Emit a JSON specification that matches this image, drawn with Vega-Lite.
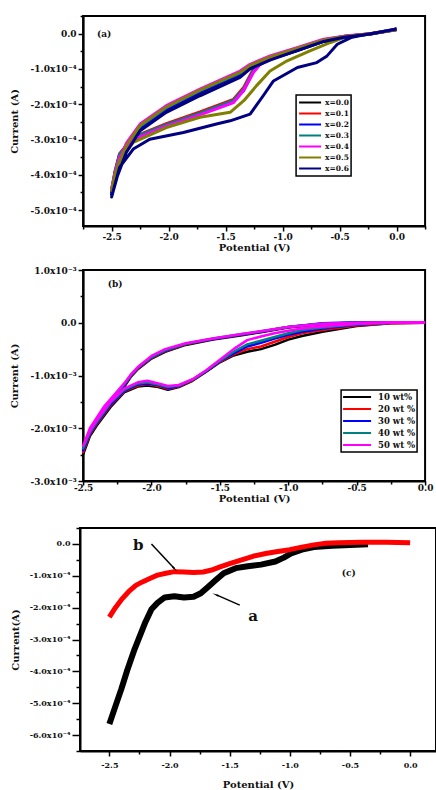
{
  "$schema": "https://vega.github.io/schema/vega-lite/v6.json",
  "description": "Cyclic voltammograms. Current is stored in units of 1e-4 A (panels a and c) and 1e-3 A (panel b).",
  "background": "white",
  "padding": {"left": 8, "top": 11, "right": 0, "bottom": 0},
  "config": {
    "view": {"stroke": "black", "strokeWidth": 2},
    "axis": {
      "grid": false, "domainColor": "black", "domainWidth": 2,
      "tickColor": "black", "tickWidth": 1.5, "tickCount": 100,
      "labelFont": "DejaVu Serif", "labelFontWeight": "bold", "labelFontSize": 8, "labelColor": "#111",
      "titleFont": "DejaVu Serif", "titleFontWeight": "bold", "titleFontSize": 10, "titleColor": "#111",
      "labelFlush": false, "labelOverlap": false
    },
    "legend": {"strokeWidth": 1.5},
    "text": {"font": "DejaVu Serif", "fontWeight": "bold", "color": "#111"}
  },
  "datasets": {
    "cv_a": [
      {"sample":"x=0.0","step":1,"potential":0,"current":0.11},
      {"sample":"x=0.0","step":2,"potential":-0.23,"current":-0.01},
      {"sample":"x=0.0","step":3,"potential":-0.46,"current":-0.1},
      {"sample":"x=0.0","step":4,"potential":-0.64,"current":-0.22},
      {"sample":"x=0.0","step":5,"potential":-0.87,"current":-0.48},
      {"sample":"x=0.0","step":6,"potential":-1.11,"current":-0.73},
      {"sample":"x=0.0","step":7,"potential":-1.2,"current":-0.8},
      {"sample":"x=0.0","step":8,"potential":-1.256,"current":-1.05},
      {"sample":"x=0.0","step":9,"potential":-1.34,"current":-1.58},
      {"sample":"x=0.0","step":10,"potential":-1.43,"current":-1.9},
      {"sample":"x=0.0","step":11,"potential":-1.725,"current":-2.25},
      {"sample":"x=0.0","step":12,"potential":-2.02,"current":-2.58},
      {"sample":"x=0.0","step":13,"potential":-2.31,"current":-2.96},
      {"sample":"x=0.0","step":14,"potential":-2.43,"current":-3.45},
      {"sample":"x=0.0","step":15,"potential":-2.47,"current":-3.95},
      {"sample":"x=0.0","step":16,"potential":-2.5,"current":-4.55},
      {"sample":"x=0.0","step":17,"potential":-2.45,"current":-3.9},
      {"sample":"x=0.0","step":18,"potential":-2.37,"current":-3.3},
      {"sample":"x=0.0","step":19,"potential":-2.25,"current":-2.7},
      {"sample":"x=0.0","step":20,"potential":-2.02,"current":-2.16},
      {"sample":"x=0.0","step":21,"potential":-1.725,"current":-1.68},
      {"sample":"x=0.0","step":22,"potential":-1.373,"current":-1.16},
      {"sample":"x=0.0","step":23,"potential":-1.285,"current":-0.95},
      {"sample":"x=0.0","step":24,"potential":-1.11,"current":-0.7},
      {"sample":"x=0.0","step":25,"potential":-0.874,"current":-0.46},
      {"sample":"x=0.0","step":26,"potential":-0.64,"current":-0.2},
      {"sample":"x=0.0","step":27,"potential":-0.46,"current":-0.09},
      {"sample":"x=0.0","step":28,"potential":-0.23,"current":-0.01},
      {"sample":"x=0.0","step":29,"potential":0,"current":0.11},

      {"sample":"x=0.1","step":1,"potential":0,"current":0.12},
      {"sample":"x=0.1","step":2,"potential":-0.23,"current":0.0},
      {"sample":"x=0.1","step":3,"potential":-0.46,"current":-0.09},
      {"sample":"x=0.1","step":4,"potential":-0.64,"current":-0.21},
      {"sample":"x=0.1","step":5,"potential":-0.87,"current":-0.46},
      {"sample":"x=0.1","step":6,"potential":-1.11,"current":-0.7},
      {"sample":"x=0.1","step":7,"potential":-1.2,"current":-0.77},
      {"sample":"x=0.1","step":8,"potential":-1.256,"current":-1.0},
      {"sample":"x=0.1","step":9,"potential":-1.34,"current":-1.52},
      {"sample":"x=0.1","step":10,"potential":-1.43,"current":-1.86},
      {"sample":"x=0.1","step":11,"potential":-1.725,"current":-2.22},
      {"sample":"x=0.1","step":12,"potential":-2.02,"current":-2.55},
      {"sample":"x=0.1","step":13,"potential":-2.31,"current":-2.93},
      {"sample":"x=0.1","step":14,"potential":-2.43,"current":-3.4},
      {"sample":"x=0.1","step":15,"potential":-2.47,"current":-3.9},
      {"sample":"x=0.1","step":16,"potential":-2.5,"current":-4.45},
      {"sample":"x=0.1","step":17,"potential":-2.45,"current":-3.82},
      {"sample":"x=0.1","step":18,"potential":-2.37,"current":-3.2},
      {"sample":"x=0.1","step":19,"potential":-2.25,"current":-2.63},
      {"sample":"x=0.1","step":20,"potential":-2.02,"current":-2.1},
      {"sample":"x=0.1","step":21,"potential":-1.725,"current":-1.62},
      {"sample":"x=0.1","step":22,"potential":-1.373,"current":-1.12},
      {"sample":"x=0.1","step":23,"potential":-1.285,"current":-0.91},
      {"sample":"x=0.1","step":24,"potential":-1.11,"current":-0.67},
      {"sample":"x=0.1","step":25,"potential":-0.874,"current":-0.43},
      {"sample":"x=0.1","step":26,"potential":-0.64,"current":-0.18},
      {"sample":"x=0.1","step":27,"potential":-0.46,"current":-0.08},
      {"sample":"x=0.1","step":28,"potential":-0.23,"current":0.0},
      {"sample":"x=0.1","step":29,"potential":0,"current":0.12},

      {"sample":"x=0.2","step":1,"potential":0,"current":0.13},
      {"sample":"x=0.2","step":2,"potential":-0.23,"current":-0.01},
      {"sample":"x=0.2","step":3,"potential":-0.46,"current":-0.1},
      {"sample":"x=0.2","step":4,"potential":-0.64,"current":-0.22},
      {"sample":"x=0.2","step":5,"potential":-0.87,"current":-0.47},
      {"sample":"x=0.2","step":6,"potential":-1.11,"current":-0.72},
      {"sample":"x=0.2","step":7,"potential":-1.2,"current":-0.8},
      {"sample":"x=0.2","step":8,"potential":-1.256,"current":-1.06},
      {"sample":"x=0.2","step":9,"potential":-1.34,"current":-1.6},
      {"sample":"x=0.2","step":10,"potential":-1.43,"current":-1.92},
      {"sample":"x=0.2","step":11,"potential":-1.725,"current":-2.27},
      {"sample":"x=0.2","step":12,"potential":-2.02,"current":-2.6},
      {"sample":"x=0.2","step":13,"potential":-2.31,"current":-2.98},
      {"sample":"x=0.2","step":14,"potential":-2.43,"current":-3.45},
      {"sample":"x=0.2","step":15,"potential":-2.47,"current":-3.95},
      {"sample":"x=0.2","step":16,"potential":-2.5,"current":-4.5},
      {"sample":"x=0.2","step":17,"potential":-2.45,"current":-3.86},
      {"sample":"x=0.2","step":18,"potential":-2.37,"current":-3.24},
      {"sample":"x=0.2","step":19,"potential":-2.25,"current":-2.67},
      {"sample":"x=0.2","step":20,"potential":-2.02,"current":-2.13},
      {"sample":"x=0.2","step":21,"potential":-1.725,"current":-1.65},
      {"sample":"x=0.2","step":22,"potential":-1.373,"current":-1.14},
      {"sample":"x=0.2","step":23,"potential":-1.285,"current":-0.93},
      {"sample":"x=0.2","step":24,"potential":-1.11,"current":-0.68},
      {"sample":"x=0.2","step":25,"potential":-0.874,"current":-0.44},
      {"sample":"x=0.2","step":26,"potential":-0.64,"current":-0.19},
      {"sample":"x=0.2","step":27,"potential":-0.46,"current":-0.08},
      {"sample":"x=0.2","step":28,"potential":-0.23,"current":-0.01},
      {"sample":"x=0.2","step":29,"potential":0,"current":0.13},

      {"sample":"x=0.3","step":1,"potential":0,"current":0.12},
      {"sample":"x=0.3","step":2,"potential":-0.23,"current":0.0},
      {"sample":"x=0.3","step":3,"potential":-0.46,"current":-0.09},
      {"sample":"x=0.3","step":4,"potential":-0.64,"current":-0.21},
      {"sample":"x=0.3","step":5,"potential":-0.87,"current":-0.46},
      {"sample":"x=0.3","step":6,"potential":-1.11,"current":-0.71},
      {"sample":"x=0.3","step":7,"potential":-1.2,"current":-0.79},
      {"sample":"x=0.3","step":8,"potential":-1.256,"current":-1.04},
      {"sample":"x=0.3","step":9,"potential":-1.34,"current":-1.56},
      {"sample":"x=0.3","step":10,"potential":-1.43,"current":-1.89},
      {"sample":"x=0.3","step":11,"potential":-1.725,"current":-2.25},
      {"sample":"x=0.3","step":12,"potential":-2.02,"current":-2.58},
      {"sample":"x=0.3","step":13,"potential":-2.31,"current":-2.95},
      {"sample":"x=0.3","step":14,"potential":-2.43,"current":-3.42},
      {"sample":"x=0.3","step":15,"potential":-2.47,"current":-3.92},
      {"sample":"x=0.3","step":16,"potential":-2.5,"current":-4.42},
      {"sample":"x=0.3","step":17,"potential":-2.45,"current":-3.8},
      {"sample":"x=0.3","step":18,"potential":-2.37,"current":-3.18},
      {"sample":"x=0.3","step":19,"potential":-2.25,"current":-2.62},
      {"sample":"x=0.3","step":20,"potential":-2.02,"current":-2.09},
      {"sample":"x=0.3","step":21,"potential":-1.725,"current":-1.61},
      {"sample":"x=0.3","step":22,"potential":-1.373,"current":-1.11},
      {"sample":"x=0.3","step":23,"potential":-1.285,"current":-0.9},
      {"sample":"x=0.3","step":24,"potential":-1.11,"current":-0.66},
      {"sample":"x=0.3","step":25,"potential":-0.874,"current":-0.42},
      {"sample":"x=0.3","step":26,"potential":-0.64,"current":-0.18},
      {"sample":"x=0.3","step":27,"potential":-0.46,"current":-0.08},
      {"sample":"x=0.3","step":28,"potential":-0.23,"current":0.0},
      {"sample":"x=0.3","step":29,"potential":0,"current":0.12},

      {"sample":"x=0.4","step":1,"potential":0,"current":0.12},
      {"sample":"x=0.4","step":2,"potential":-0.23,"current":0.0},
      {"sample":"x=0.4","step":3,"potential":-0.46,"current":-0.08},
      {"sample":"x=0.4","step":4,"potential":-0.64,"current":-0.18},
      {"sample":"x=0.4","step":5,"potential":-0.87,"current":-0.45},
      {"sample":"x=0.4","step":6,"potential":-1.11,"current":-0.72},
      {"sample":"x=0.4","step":7,"potential":-1.2,"current":-0.88},
      {"sample":"x=0.4","step":8,"potential":-1.256,"current":-1.1},
      {"sample":"x=0.4","step":9,"potential":-1.34,"current":-1.6},
      {"sample":"x=0.4","step":10,"potential":-1.43,"current":-1.95},
      {"sample":"x=0.4","step":11,"potential":-1.725,"current":-2.3},
      {"sample":"x=0.4","step":12,"potential":-2.02,"current":-2.62},
      {"sample":"x=0.4","step":13,"potential":-2.31,"current":-3.0},
      {"sample":"x=0.4","step":14,"potential":-2.43,"current":-3.5},
      {"sample":"x=0.4","step":15,"potential":-2.47,"current":-3.95},
      {"sample":"x=0.4","step":16,"potential":-2.5,"current":-4.4},
      {"sample":"x=0.4","step":17,"potential":-2.45,"current":-3.75},
      {"sample":"x=0.4","step":18,"potential":-2.37,"current":-3.1},
      {"sample":"x=0.4","step":19,"potential":-2.25,"current":-2.56},
      {"sample":"x=0.4","step":20,"potential":-2.02,"current":-2.04},
      {"sample":"x=0.4","step":21,"potential":-1.725,"current":-1.57},
      {"sample":"x=0.4","step":22,"potential":-1.373,"current":-1.06},
      {"sample":"x=0.4","step":23,"potential":-1.285,"current":-0.87},
      {"sample":"x=0.4","step":24,"potential":-1.11,"current":-0.63},
      {"sample":"x=0.4","step":25,"potential":-0.874,"current":-0.4},
      {"sample":"x=0.4","step":26,"potential":-0.64,"current":-0.16},
      {"sample":"x=0.4","step":27,"potential":-0.46,"current":-0.07},
      {"sample":"x=0.4","step":28,"potential":-0.23,"current":0.0},
      {"sample":"x=0.4","step":29,"potential":0,"current":0.12},

      {"sample":"x=0.5","step":1,"potential":0,"current":0.12},
      {"sample":"x=0.5","step":2,"potential":-0.23,"current":0.0},
      {"sample":"x=0.5","step":3,"potential":-0.46,"current":-0.11},
      {"sample":"x=0.5","step":4,"potential":-0.58,"current":-0.25},
      {"sample":"x=0.5","step":5,"potential":-0.76,"current":-0.49},
      {"sample":"x=0.5","step":6,"potential":-0.96,"current":-0.77},
      {"sample":"x=0.5","step":7,"potential":-1.11,"current":-1.06},
      {"sample":"x=0.5","step":8,"potential":-1.23,"current":-1.48},
      {"sample":"x=0.5","step":9,"potential":-1.34,"current":-1.9},
      {"sample":"x=0.5","step":10,"potential":-1.46,"current":-2.23},
      {"sample":"x=0.5","step":11,"potential":-1.725,"current":-2.37},
      {"sample":"x=0.5","step":12,"potential":-2.02,"current":-2.66},
      {"sample":"x=0.5","step":13,"potential":-2.31,"current":-3.08},
      {"sample":"x=0.5","step":14,"potential":-2.43,"current":-3.6},
      {"sample":"x=0.5","step":15,"potential":-2.47,"current":-4.0},
      {"sample":"x=0.5","step":16,"potential":-2.5,"current":-4.45},
      {"sample":"x=0.5","step":17,"potential":-2.45,"current":-3.8},
      {"sample":"x=0.5","step":18,"potential":-2.37,"current":-3.17},
      {"sample":"x=0.5","step":19,"potential":-2.25,"current":-2.6},
      {"sample":"x=0.5","step":20,"potential":-2.02,"current":-2.08},
      {"sample":"x=0.5","step":21,"potential":-1.725,"current":-1.6},
      {"sample":"x=0.5","step":22,"potential":-1.373,"current":-1.1},
      {"sample":"x=0.5","step":23,"potential":-1.285,"current":-0.9},
      {"sample":"x=0.5","step":24,"potential":-1.11,"current":-0.66},
      {"sample":"x=0.5","step":25,"potential":-0.874,"current":-0.42},
      {"sample":"x=0.5","step":26,"potential":-0.64,"current":-0.18},
      {"sample":"x=0.5","step":27,"potential":-0.46,"current":-0.08},
      {"sample":"x=0.5","step":28,"potential":-0.23,"current":0.0},
      {"sample":"x=0.5","step":29,"potential":0,"current":0.12},

      {"sample":"x=0.6","step":1,"potential":0,"current":0.13},
      {"sample":"x=0.6","step":2,"potential":-0.23,"current":0.0},
      {"sample":"x=0.6","step":3,"potential":-0.4,"current":-0.11},
      {"sample":"x=0.6","step":4,"potential":-0.52,"current":-0.3},
      {"sample":"x=0.6","step":5,"potential":-0.61,"current":-0.63},
      {"sample":"x=0.6","step":6,"potential":-0.7,"current":-0.82},
      {"sample":"x=0.6","step":7,"potential":-0.87,"current":-0.96},
      {"sample":"x=0.6","step":8,"potential":-1.08,"current":-1.34},
      {"sample":"x=0.6","step":9,"potential":-1.17,"current":-1.76},
      {"sample":"x=0.6","step":10,"potential":-1.285,"current":-2.28},
      {"sample":"x=0.6","step":11,"potential":-1.46,"current":-2.47},
      {"sample":"x=0.6","step":12,"potential":-1.58,"current":-2.56},
      {"sample":"x=0.6","step":13,"potential":-1.87,"current":-2.8},
      {"sample":"x=0.6","step":14,"potential":-2.165,"current":-2.99},
      {"sample":"x=0.6","step":15,"potential":-2.31,"current":-3.27},
      {"sample":"x=0.6","step":16,"potential":-2.43,"current":-3.79},
      {"sample":"x=0.6","step":17,"potential":-2.5,"current":-4.63},
      {"sample":"x=0.6","step":18,"potential":-2.45,"current":-4.05},
      {"sample":"x=0.6","step":19,"potential":-2.37,"current":-3.36},
      {"sample":"x=0.6","step":20,"potential":-2.25,"current":-2.75},
      {"sample":"x=0.6","step":21,"potential":-2.02,"current":-2.23},
      {"sample":"x=0.6","step":22,"potential":-1.725,"current":-1.76},
      {"sample":"x=0.6","step":23,"potential":-1.373,"current":-1.24},
      {"sample":"x=0.6","step":24,"potential":-1.285,"current":-1.0},
      {"sample":"x=0.6","step":25,"potential":-1.11,"current":-0.75},
      {"sample":"x=0.6","step":26,"potential":-0.874,"current":-0.48},
      {"sample":"x=0.6","step":27,"potential":-0.64,"current":-0.22},
      {"sample":"x=0.6","step":28,"potential":-0.46,"current":-0.1},
      {"sample":"x=0.6","step":29,"potential":-0.23,"current":-0.01},
      {"sample":"x=0.6","step":30,"potential":0,"current":0.13}
    ],
    "cv_b": [
      {"sample":"10 wt%","step":1,"potential":0,"current":0},
      {"sample":"10 wt%","step":2,"potential":-0.25,"current":-0.01},
      {"sample":"10 wt%","step":3,"potential":-0.5,"current":-0.06},
      {"sample":"10 wt%","step":4,"potential":-0.75,"current":-0.17},
      {"sample":"10 wt%","step":5,"potential":-0.9,"current":-0.25},
      {"sample":"10 wt%","step":6,"potential":-1.0,"current":-0.32},
      {"sample":"10 wt%","step":7,"potential":-1.1,"current":-0.42},
      {"sample":"10 wt%","step":8,"potential":-1.2,"current":-0.5},
      {"sample":"10 wt%","step":9,"potential":-1.3,"current":-0.55},
      {"sample":"10 wt%","step":10,"potential":-1.4,"current":-0.62},
      {"sample":"10 wt%","step":11,"potential":-1.5,"current":-0.75},
      {"sample":"10 wt%","step":12,"potential":-1.6,"current":-0.93},
      {"sample":"10 wt%","step":13,"potential":-1.7,"current":-1.1},
      {"sample":"10 wt%","step":14,"potential":-1.8,"current":-1.22},
      {"sample":"10 wt%","step":15,"potential":-1.88,"current":-1.27},
      {"sample":"10 wt%","step":16,"potential":-1.95,"current":-1.22},
      {"sample":"10 wt%","step":17,"potential":-2.03,"current":-1.19},
      {"sample":"10 wt%","step":18,"potential":-2.1,"current":-1.21},
      {"sample":"10 wt%","step":19,"potential":-2.2,"current":-1.32},
      {"sample":"10 wt%","step":20,"potential":-2.3,"current":-1.6},
      {"sample":"10 wt%","step":21,"potential":-2.4,"current":-1.95},
      {"sample":"10 wt%","step":22,"potential":-2.45,"current":-2.15},
      {"sample":"10 wt%","step":23,"potential":-2.5,"current":-2.5},
      {"sample":"10 wt%","step":24,"potential":-2.45,"current":-2.12},
      {"sample":"10 wt%","step":25,"potential":-2.35,"current":-1.72},
      {"sample":"10 wt%","step":26,"potential":-2.25,"current":-1.4},
      {"sample":"10 wt%","step":27,"potential":-2.2,"current":-1.22},
      {"sample":"10 wt%","step":28,"potential":-2.15,"current":-1.02},
      {"sample":"10 wt%","step":29,"potential":-2.1,"current":-0.88},
      {"sample":"10 wt%","step":30,"potential":-2.0,"current":-0.68},
      {"sample":"10 wt%","step":31,"potential":-1.9,"current":-0.55},
      {"sample":"10 wt%","step":32,"potential":-1.75,"current":-0.42},
      {"sample":"10 wt%","step":33,"potential":-1.55,"current":-0.32},
      {"sample":"10 wt%","step":34,"potential":-1.35,"current":-0.24},
      {"sample":"10 wt%","step":35,"potential":-1.2,"current":-0.18},
      {"sample":"10 wt%","step":36,"potential":-1.0,"current":-0.09},
      {"sample":"10 wt%","step":37,"potential":-0.75,"current":-0.03},
      {"sample":"10 wt%","step":38,"potential":-0.5,"current":-0.01},
      {"sample":"10 wt%","step":39,"potential":-0.25,"current":0.0},
      {"sample":"10 wt%","step":40,"potential":0,"current":0.0},

      {"sample":"20 wt %","step":1,"potential":0,"current":0},
      {"sample":"20 wt %","step":2,"potential":-0.25,"current":-0.01},
      {"sample":"20 wt %","step":3,"potential":-0.5,"current":-0.05},
      {"sample":"20 wt %","step":4,"potential":-0.75,"current":-0.14},
      {"sample":"20 wt %","step":5,"potential":-0.9,"current":-0.2},
      {"sample":"20 wt %","step":6,"potential":-1.0,"current":-0.27},
      {"sample":"20 wt %","step":7,"potential":-1.1,"current":-0.36},
      {"sample":"20 wt %","step":8,"potential":-1.2,"current":-0.45},
      {"sample":"20 wt %","step":9,"potential":-1.3,"current":-0.5},
      {"sample":"20 wt %","step":10,"potential":-1.4,"current":-0.6},
      {"sample":"20 wt %","step":11,"potential":-1.5,"current":-0.74},
      {"sample":"20 wt %","step":12,"potential":-1.6,"current":-0.92},
      {"sample":"20 wt %","step":13,"potential":-1.7,"current":-1.09},
      {"sample":"20 wt %","step":14,"potential":-1.8,"current":-1.21},
      {"sample":"20 wt %","step":15,"potential":-1.88,"current":-1.25},
      {"sample":"20 wt %","step":16,"potential":-1.95,"current":-1.2},
      {"sample":"20 wt %","step":17,"potential":-2.03,"current":-1.16},
      {"sample":"20 wt %","step":18,"potential":-2.1,"current":-1.19},
      {"sample":"20 wt %","step":19,"potential":-2.2,"current":-1.3},
      {"sample":"20 wt %","step":20,"potential":-2.3,"current":-1.57},
      {"sample":"20 wt %","step":21,"potential":-2.4,"current":-1.92},
      {"sample":"20 wt %","step":22,"potential":-2.45,"current":-2.12},
      {"sample":"20 wt %","step":23,"potential":-2.5,"current":-2.45},
      {"sample":"20 wt %","step":24,"potential":-2.45,"current":-2.1},
      {"sample":"20 wt %","step":25,"potential":-2.35,"current":-1.7},
      {"sample":"20 wt %","step":26,"potential":-2.25,"current":-1.38},
      {"sample":"20 wt %","step":27,"potential":-2.2,"current":-1.2},
      {"sample":"20 wt %","step":28,"potential":-2.15,"current":-1.01},
      {"sample":"20 wt %","step":29,"potential":-2.1,"current":-0.87},
      {"sample":"20 wt %","step":30,"potential":-2.0,"current":-0.67},
      {"sample":"20 wt %","step":31,"potential":-1.9,"current":-0.54},
      {"sample":"20 wt %","step":32,"potential":-1.75,"current":-0.41},
      {"sample":"20 wt %","step":33,"potential":-1.55,"current":-0.31},
      {"sample":"20 wt %","step":34,"potential":-1.35,"current":-0.23},
      {"sample":"20 wt %","step":35,"potential":-1.2,"current":-0.17},
      {"sample":"20 wt %","step":36,"potential":-1.0,"current":-0.08},
      {"sample":"20 wt %","step":37,"potential":-0.75,"current":-0.02},
      {"sample":"20 wt %","step":38,"potential":-0.5,"current":0.0},
      {"sample":"20 wt %","step":39,"potential":-0.25,"current":0.0},
      {"sample":"20 wt %","step":40,"potential":0,"current":0.0},

      {"sample":"30 wt %","step":1,"potential":0,"current":0},
      {"sample":"30 wt %","step":2,"potential":-0.25,"current":0.0},
      {"sample":"30 wt %","step":3,"potential":-0.5,"current":-0.04},
      {"sample":"30 wt %","step":4,"potential":-0.75,"current":-0.11},
      {"sample":"30 wt %","step":5,"potential":-0.9,"current":-0.17},
      {"sample":"30 wt %","step":6,"potential":-1.0,"current":-0.23},
      {"sample":"30 wt %","step":7,"potential":-1.1,"current":-0.3},
      {"sample":"30 wt %","step":8,"potential":-1.2,"current":-0.38},
      {"sample":"30 wt %","step":9,"potential":-1.3,"current":-0.45},
      {"sample":"30 wt %","step":10,"potential":-1.4,"current":-0.58},
      {"sample":"30 wt %","step":11,"potential":-1.5,"current":-0.73},
      {"sample":"30 wt %","step":12,"potential":-1.6,"current":-0.92},
      {"sample":"30 wt %","step":13,"potential":-1.7,"current":-1.08},
      {"sample":"30 wt %","step":14,"potential":-1.8,"current":-1.2},
      {"sample":"30 wt %","step":15,"potential":-1.88,"current":-1.24},
      {"sample":"30 wt %","step":16,"potential":-1.95,"current":-1.18},
      {"sample":"30 wt %","step":17,"potential":-2.03,"current":-1.15},
      {"sample":"30 wt %","step":18,"potential":-2.1,"current":-1.17},
      {"sample":"30 wt %","step":19,"potential":-2.2,"current":-1.29},
      {"sample":"30 wt %","step":20,"potential":-2.3,"current":-1.55},
      {"sample":"30 wt %","step":21,"potential":-2.4,"current":-1.9},
      {"sample":"30 wt %","step":22,"potential":-2.45,"current":-2.1},
      {"sample":"30 wt %","step":23,"potential":-2.5,"current":-2.42},
      {"sample":"30 wt %","step":24,"potential":-2.45,"current":-2.07},
      {"sample":"30 wt %","step":25,"potential":-2.35,"current":-1.67},
      {"sample":"30 wt %","step":26,"potential":-2.25,"current":-1.36},
      {"sample":"30 wt %","step":27,"potential":-2.2,"current":-1.19},
      {"sample":"30 wt %","step":28,"potential":-2.15,"current":-1.0},
      {"sample":"30 wt %","step":29,"potential":-2.1,"current":-0.86},
      {"sample":"30 wt %","step":30,"potential":-2.0,"current":-0.66},
      {"sample":"30 wt %","step":31,"potential":-1.9,"current":-0.53},
      {"sample":"30 wt %","step":32,"potential":-1.75,"current":-0.4},
      {"sample":"30 wt %","step":33,"potential":-1.55,"current":-0.31},
      {"sample":"30 wt %","step":34,"potential":-1.35,"current":-0.23},
      {"sample":"30 wt %","step":35,"potential":-1.2,"current":-0.17},
      {"sample":"30 wt %","step":36,"potential":-1.0,"current":-0.08},
      {"sample":"30 wt %","step":37,"potential":-0.75,"current":-0.01},
      {"sample":"30 wt %","step":38,"potential":-0.5,"current":0.01},
      {"sample":"30 wt %","step":39,"potential":-0.25,"current":0.01},
      {"sample":"30 wt %","step":40,"potential":0,"current":0.01},

      {"sample":"40 wt %","step":1,"potential":0,"current":0},
      {"sample":"40 wt %","step":2,"potential":-0.25,"current":0.0},
      {"sample":"40 wt %","step":3,"potential":-0.5,"current":-0.03},
      {"sample":"40 wt %","step":4,"potential":-0.75,"current":-0.09},
      {"sample":"40 wt %","step":5,"potential":-0.9,"current":-0.14},
      {"sample":"40 wt %","step":6,"potential":-1.0,"current":-0.2},
      {"sample":"40 wt %","step":7,"potential":-1.1,"current":-0.27},
      {"sample":"40 wt %","step":8,"potential":-1.2,"current":-0.34},
      {"sample":"40 wt %","step":9,"potential":-1.3,"current":-0.41},
      {"sample":"40 wt %","step":10,"potential":-1.4,"current":-0.55},
      {"sample":"40 wt %","step":11,"potential":-1.5,"current":-0.72},
      {"sample":"40 wt %","step":12,"potential":-1.6,"current":-0.91},
      {"sample":"40 wt %","step":13,"potential":-1.7,"current":-1.08},
      {"sample":"40 wt %","step":14,"potential":-1.8,"current":-1.19},
      {"sample":"40 wt %","step":15,"potential":-1.88,"current":-1.22},
      {"sample":"40 wt %","step":16,"potential":-1.95,"current":-1.17},
      {"sample":"40 wt %","step":17,"potential":-2.03,"current":-1.13},
      {"sample":"40 wt %","step":18,"potential":-2.1,"current":-1.15},
      {"sample":"40 wt %","step":19,"potential":-2.2,"current":-1.27},
      {"sample":"40 wt %","step":20,"potential":-2.3,"current":-1.52},
      {"sample":"40 wt %","step":21,"potential":-2.4,"current":-1.88},
      {"sample":"40 wt %","step":22,"potential":-2.45,"current":-2.08},
      {"sample":"40 wt %","step":23,"potential":-2.5,"current":-2.38},
      {"sample":"40 wt %","step":24,"potential":-2.45,"current":-2.04},
      {"sample":"40 wt %","step":25,"potential":-2.35,"current":-1.64},
      {"sample":"40 wt %","step":26,"potential":-2.25,"current":-1.33},
      {"sample":"40 wt %","step":27,"potential":-2.2,"current":-1.17},
      {"sample":"40 wt %","step":28,"potential":-2.15,"current":-0.99},
      {"sample":"40 wt %","step":29,"potential":-2.1,"current":-0.85},
      {"sample":"40 wt %","step":30,"potential":-2.0,"current":-0.65},
      {"sample":"40 wt %","step":31,"potential":-1.9,"current":-0.52},
      {"sample":"40 wt %","step":32,"potential":-1.75,"current":-0.4},
      {"sample":"40 wt %","step":33,"potential":-1.55,"current":-0.3},
      {"sample":"40 wt %","step":34,"potential":-1.35,"current":-0.22},
      {"sample":"40 wt %","step":35,"potential":-1.2,"current":-0.16},
      {"sample":"40 wt %","step":36,"potential":-1.0,"current":-0.08},
      {"sample":"40 wt %","step":37,"potential":-0.75,"current":-0.02},
      {"sample":"40 wt %","step":38,"potential":-0.5,"current":0.0},
      {"sample":"40 wt %","step":39,"potential":-0.25,"current":0.0},
      {"sample":"40 wt %","step":40,"potential":0,"current":0.0},

      {"sample":"50 wt %","step":1,"potential":0,"current":0},
      {"sample":"50 wt %","step":2,"potential":-0.25,"current":0.0},
      {"sample":"50 wt %","step":3,"potential":-0.5,"current":-0.02},
      {"sample":"50 wt %","step":4,"potential":-0.75,"current":-0.07},
      {"sample":"50 wt %","step":5,"potential":-0.9,"current":-0.11},
      {"sample":"50 wt %","step":6,"potential":-1.0,"current":-0.15},
      {"sample":"50 wt %","step":7,"potential":-1.1,"current":-0.2},
      {"sample":"50 wt %","step":8,"potential":-1.2,"current":-0.26},
      {"sample":"50 wt %","step":9,"potential":-1.3,"current":-0.33},
      {"sample":"50 wt %","step":10,"potential":-1.4,"current":-0.5},
      {"sample":"50 wt %","step":11,"potential":-1.5,"current":-0.7},
      {"sample":"50 wt %","step":12,"potential":-1.6,"current":-0.9},
      {"sample":"50 wt %","step":13,"potential":-1.7,"current":-1.07},
      {"sample":"50 wt %","step":14,"potential":-1.8,"current":-1.18},
      {"sample":"50 wt %","step":15,"potential":-1.88,"current":-1.2},
      {"sample":"50 wt %","step":16,"potential":-1.95,"current":-1.15},
      {"sample":"50 wt %","step":17,"potential":-2.03,"current":-1.1},
      {"sample":"50 wt %","step":18,"potential":-2.1,"current":-1.13},
      {"sample":"50 wt %","step":19,"potential":-2.2,"current":-1.25},
      {"sample":"50 wt %","step":20,"potential":-2.3,"current":-1.5},
      {"sample":"50 wt %","step":21,"potential":-2.4,"current":-1.85},
      {"sample":"50 wt %","step":22,"potential":-2.45,"current":-2.05},
      {"sample":"50 wt %","step":23,"potential":-2.5,"current":-2.33},
      {"sample":"50 wt %","step":24,"potential":-2.45,"current":-2.0},
      {"sample":"50 wt %","step":25,"potential":-2.35,"current":-1.6},
      {"sample":"50 wt %","step":26,"potential":-2.25,"current":-1.3},
      {"sample":"50 wt %","step":27,"potential":-2.2,"current":-1.15},
      {"sample":"50 wt %","step":28,"potential":-2.15,"current":-0.98},
      {"sample":"50 wt %","step":29,"potential":-2.1,"current":-0.84},
      {"sample":"50 wt %","step":30,"potential":-2.0,"current":-0.63},
      {"sample":"50 wt %","step":31,"potential":-1.9,"current":-0.5},
      {"sample":"50 wt %","step":32,"potential":-1.75,"current":-0.39},
      {"sample":"50 wt %","step":33,"potential":-1.55,"current":-0.3},
      {"sample":"50 wt %","step":34,"potential":-1.35,"current":-0.22},
      {"sample":"50 wt %","step":35,"potential":-1.2,"current":-0.16},
      {"sample":"50 wt %","step":36,"potential":-1.0,"current":-0.08},
      {"sample":"50 wt %","step":37,"potential":-0.75,"current":-0.02},
      {"sample":"50 wt %","step":38,"potential":-0.5,"current":0.0},
      {"sample":"50 wt %","step":39,"potential":-0.25,"current":0.01},
      {"sample":"50 wt %","step":40,"potential":0,"current":0.01}
    ],
    "cv_c": [
      {"sample":"a","step":1,"potential":-2.5,"current":-5.65},
      {"sample":"a","step":2,"potential":-2.45,"current":-5.1},
      {"sample":"a","step":3,"potential":-2.4,"current":-4.55},
      {"sample":"a","step":4,"potential":-2.35,"current":-3.95},
      {"sample":"a","step":5,"potential":-2.29,"current":-3.3},
      {"sample":"a","step":6,"potential":-2.2,"current":-2.45},
      {"sample":"a","step":7,"potential":-2.15,"current":-2.05},
      {"sample":"a","step":8,"potential":-2.1,"current":-1.85},
      {"sample":"a","step":9,"potential":-2.04,"current":-1.68},
      {"sample":"a","step":10,"potential":-1.96,"current":-1.64},
      {"sample":"a","step":11,"potential":-1.88,"current":-1.68},
      {"sample":"a","step":12,"potential":-1.8,"current":-1.66},
      {"sample":"a","step":13,"potential":-1.74,"current":-1.55},
      {"sample":"a","step":14,"potential":-1.68,"current":-1.35},
      {"sample":"a","step":15,"potential":-1.62,"current":-1.15},
      {"sample":"a","step":16,"potential":-1.55,"current":-0.92},
      {"sample":"a","step":17,"potential":-1.45,"current":-0.76},
      {"sample":"a","step":18,"potential":-1.35,"current":-0.7},
      {"sample":"a","step":19,"potential":-1.24,"current":-0.65},
      {"sample":"a","step":20,"potential":-1.12,"current":-0.55},
      {"sample":"a","step":21,"potential":-1.05,"current":-0.43},
      {"sample":"a","step":22,"potential":-0.99,"current":-0.3},
      {"sample":"a","step":23,"potential":-0.9,"current":-0.18},
      {"sample":"a","step":24,"potential":-0.8,"current":-0.1},
      {"sample":"a","step":25,"potential":-0.65,"current":-0.06},
      {"sample":"a","step":26,"potential":-0.5,"current":-0.03},
      {"sample":"a","step":27,"potential":-0.35,"current":-0.01},

      {"sample":"b","step":1,"potential":-2.5,"current":-2.3},
      {"sample":"b","step":2,"potential":-2.45,"current":-2.0},
      {"sample":"b","step":3,"potential":-2.4,"current":-1.75},
      {"sample":"b","step":4,"potential":-2.34,"current":-1.5},
      {"sample":"b","step":5,"potential":-2.28,"current":-1.3},
      {"sample":"b","step":6,"potential":-2.23,"current":-1.2},
      {"sample":"b","step":7,"potential":-2.15,"current":-1.06},
      {"sample":"b","step":8,"potential":-2.1,"current":-0.98},
      {"sample":"b","step":9,"potential":-2.03,"current":-0.92},
      {"sample":"b","step":10,"potential":-1.96,"current":-0.87},
      {"sample":"b","step":11,"potential":-1.88,"current":-0.88},
      {"sample":"b","step":12,"potential":-1.8,"current":-0.9},
      {"sample":"b","step":13,"potential":-1.72,"current":-0.88},
      {"sample":"b","step":14,"potential":-1.65,"current":-0.82},
      {"sample":"b","step":15,"potential":-1.58,"current":-0.72},
      {"sample":"b","step":16,"potential":-1.5,"current":-0.62},
      {"sample":"b","step":17,"potential":-1.4,"current":-0.5},
      {"sample":"b","step":18,"potential":-1.3,"current":-0.38},
      {"sample":"b","step":19,"potential":-1.2,"current":-0.3},
      {"sample":"b","step":20,"potential":-1.1,"current":-0.24},
      {"sample":"b","step":21,"potential":-1.0,"current":-0.18},
      {"sample":"b","step":22,"potential":-0.9,"current":-0.1},
      {"sample":"b","step":23,"potential":-0.8,"current":-0.03},
      {"sample":"b","step":24,"potential":-0.7,"current":0.02},
      {"sample":"b","step":25,"potential":-0.6,"current":0.04},
      {"sample":"b","step":26,"potential":-0.4,"current":0.05},
      {"sample":"b","step":27,"potential":-0.2,"current":0.05},
      {"sample":"b","step":28,"potential":0.0,"current":0.04}
    ],
    "arrows_c": [
      {"target":"b","potential":-2.15,"current":0.0,"potential_end":-1.96,"current_end":-0.77},
      {"target":"a","potential":-1.416,"current":-1.92,"potential_end":-1.61,"current_end":-1.6}
    ]
  },
  "concat": [
    {
      "concat": [
        {
          "width": 342,
          "height": 210,
          "layer": [
            {
              "data": {"name": "cv_a"},
              "mark": {"type": "line", "strokeWidth": 3, "strokeJoin": "round"},
              "encoding": {
                "x": {
                  "field": "potential", "type": "quantitative",
                  "scale": {"domain": [-2.75, 0.25], "nice": false, "zero": false},
                  "axis": {
                    "title": "Potential (V)",
                    "values": [-2.75, -2.5, -2.25, -2.0, -1.75, -1.5, -1.25, -1.0, -0.75, -0.5, -0.25, 0, 0.25],
                    "labelExpr": "abs(datum.value*2 - round(datum.value*2)) > 0.25 ? '' : replace(format(datum.value, '.1f'), '−', '-')",
                    "tickSize": {"condition": {"test": "abs(datum.value*2 - round(datum.value*2)) > 0.25", "value": 3}, "value": 5},
                    "labelFontSize": 9, "labelPadding": 1, "titlePadding": 1
                  }
                },
                "y": {
                  "field": "current", "type": "quantitative",
                  "scale": {"domain": [-5.45, 0.5], "nice": false, "zero": false},
                  "axis": {
                    "title": "Current (A)",
                    "values": [0.5, 0, -0.5, -1, -1.5, -2, -2.5, -3, -3.5, -4, -4.5, -5],
                    "labelExpr": "abs(datum.value - round(datum.value)) > 0.25 ? '' : (datum.value == 0 ? '0.0' : replace(format(datum.value, '.1f'), '−', '-') + 'x10⁻⁴')",
                    "tickSize": {"condition": {"test": "abs(datum.value - round(datum.value)) > 0.25", "value": 3}, "value": 5},
                    "labelFontSize": 9, "labelPadding": 2, "titlePadding": 11
                  }
                },
                "color": {
                  "field": "sample", "type": "nominal",
                  "scale": {
                    "domain": ["x=0.0", "x=0.1", "x=0.2", "x=0.3", "x=0.4", "x=0.5", "x=0.6"],
                    "range": ["#000000", "#ff0000", "#0000ff", "#008080", "#ff00ff", "#808000", "#000080"]
                  },
                  "legend": {
                    "title": null, "orient": "none", "legendX": 213, "legendY": 79,
                    "symbolType": "stroke", "symbolSize": 484, "symbolStrokeWidth": 2,
                    "labelFont": "DejaVu Serif", "labelFontWeight": "bold", "labelFontSize": 7.5, "labelColor": "#111",
                    "labelOffset": 3, "clipHeight": 11, "rowPadding": 0,
                    "strokeColor": "black", "fillColor": "white", "padding": 2
                  }
                },
                "order": {"field": "step", "type": "quantitative"}
              }
            },
            {
              "data": {"values": [{"panel": "(a)", "potential": -2.566, "current": 0}]},
              "mark": {"type": "text", "fontSize": 9},
              "encoding": {
                "x": {"field": "potential", "type": "quantitative"},
                "y": {"field": "current", "type": "quantitative"},
                "text": {"field": "panel"}
              }
            }
          ]
        },
        {
          "width": 342,
          "height": 211,
          "layer": [
            {
              "data": {"name": "cv_b"},
              "mark": {"type": "line", "strokeWidth": 2.5, "strokeJoin": "round"},
              "encoding": {
                "x": {
                  "field": "potential", "type": "quantitative",
                  "scale": {"domain": [-2.5, 0], "nice": false, "zero": false},
                  "axis": {
                    "title": "Potential (V)",
                    "values": [-2.5, -2.25, -2.0, -1.75, -1.5, -1.25, -1.0, -0.75, -0.5, -0.25, 0],
                    "labelExpr": "abs(datum.value*2 - round(datum.value*2)) > 0.25 ? '' : replace(format(datum.value, '.1f'), '−', '-')",
                    "tickSize": {"condition": {"test": "abs(datum.value*2 - round(datum.value*2)) > 0.25", "value": 3}, "value": 4},
                    "labelFontSize": 9, "labelPadding": -2, "titlePadding": 1
                  }
                },
                "y": {
                  "field": "current", "type": "quantitative",
                  "scale": {"domain": [-3, 1], "nice": false, "zero": false},
                  "axis": {
                    "title": "Current (A)",
                    "values": [1, 0.5, 0, -0.5, -1, -1.5, -2, -2.5, -3],
                    "labelExpr": "abs(datum.value - round(datum.value)) > 0.25 ? '' : (datum.value == 0 ? '0.0' : replace(format(datum.value, '.1f'), '−', '-') + 'x10⁻³')",
                    "tickSize": {"condition": {"test": "abs(datum.value - round(datum.value)) > 0.25", "value": 3}, "value": 5},
                    "labelFontSize": 9, "labelPadding": 2, "titlePadding": 11
                  }
                },
                "color": {
                  "field": "sample", "type": "nominal",
                  "scale": {
                    "domain": ["10 wt%", "20 wt %", "30 wt %", "40 wt %", "50 wt %"],
                    "range": ["#000000", "#ff0000", "#0000ff", "#008080", "#ff00ff"]
                  },
                  "legend": {
                    "title": null, "orient": "none", "legendX": 258, "legendY": 120,
                    "symbolType": "stroke", "symbolSize": 784, "symbolStrokeWidth": 2,
                    "labelFont": "DejaVu Serif", "labelFontWeight": "bold", "labelFontSize": 8.5, "labelColor": "#111",
                    "labelOffset": 6, "clipHeight": 12, "rowPadding": 0,
                    "strokeColor": "black", "fillColor": "white", "padding": 1
                  }
                },
                "order": {"field": "step", "type": "quantitative"}
              }
            },
            {
              "data": {"values": [{"panel": "(b)", "potential": -2.266, "current": 0.73}]},
              "mark": {"type": "text", "fontSize": 9},
              "encoding": {
                "x": {"field": "potential", "type": "quantitative"},
                "y": {"field": "current", "type": "quantitative"},
                "text": {"field": "panel"}
              }
            }
          ]
        }
      ],
      "columns": 1,
      "spacing": 12,
      "resolve": {"scale": {"color": "independent"}, "legend": {"color": "independent"}}
    },
    {
      "width": 356,
      "height": 223,
      "layer": [
        {
          "data": {"name": "cv_c"},
          "transform": [{"filter": "datum.sample == 'a'"}],
          "mark": {"type": "line", "strokeWidth": 6, "color": "#000000", "strokeJoin": "round"},
          "encoding": {
            "x": {
              "field": "potential", "type": "quantitative",
              "scale": {"domain": [-2.744, 0.215], "nice": false, "zero": false},
              "axis": {
                "title": "Potential (V)",
                "values": [-2.5, -2.25, -2.0, -1.75, -1.5, -1.25, -1.0, -0.75, -0.5, -0.25, 0],
                "labelExpr": "abs(datum.value*2 - round(datum.value*2)) > 0.25 ? '' : replace(format(datum.value, '.1f'), '−', '-')",
                "tickSize": {"condition": {"test": "abs(datum.value*2 - round(datum.value*2)) > 0.25", "value": 3}, "value": 5},
                "labelPadding": 5, "titlePadding": 10
              }
            },
            "y": {
              "field": "current", "type": "quantitative",
              "scale": {"domain": [-6.5, 0.5], "nice": false, "zero": false},
              "axis": {
                "title": "Current(A)",
                "values": [0.5, 0, -0.5, -1, -1.5, -2, -2.5, -3, -3.5, -4, -4.5, -5, -5.5, -6, -6.5],
                "labelExpr": "abs(datum.value - round(datum.value)) > 0.25 ? '' : (datum.value == 0 ? '0.0' : replace(format(datum.value, '.1f'), '−', '-') + 'x10⁻⁴')",
                "tickSize": {"condition": {"test": "abs(datum.value - round(datum.value)) > 0.25", "value": 4}, "value": 8},
                "labelPadding": 2, "titlePadding": 9
              }
            },
            "order": {"field": "step", "type": "quantitative"}
          }
        },
        {
          "data": {"name": "cv_c"},
          "transform": [{"filter": "datum.sample == 'b'"}],
          "mark": {"type": "line", "strokeWidth": 5, "color": "#ff0000", "strokeJoin": "round"},
          "encoding": {
            "x": {"field": "potential", "type": "quantitative"},
            "y": {"field": "current", "type": "quantitative"},
            "order": {"field": "step", "type": "quantitative"}
          }
        },
        {
          "data": {"name": "arrows_c"},
          "mark": {"type": "rule", "strokeWidth": 1.5, "color": "black"},
          "encoding": {
            "x": {"field": "potential", "type": "quantitative"},
            "y": {"field": "current", "type": "quantitative"},
            "x2": {"field": "potential_end"},
            "y2": {"field": "current_end"}
          }
        },
        {
          "data": {"name": "arrows_c"},
          "transform": [{"filter": "datum.target == 'b'"}],
          "mark": {"type": "point", "shape": "wedge", "filled": true, "color": "black", "size": 60, "angle": 136, "opacity": 1},
          "encoding": {
            "x": {"field": "potential_end", "type": "quantitative"},
            "y": {"field": "current_end", "type": "quantitative"}
          }
        },
        {
          "data": {"name": "arrows_c"},
          "transform": [{"filter": "datum.target == 'a'"}],
          "mark": {"type": "point", "shape": "wedge", "filled": true, "color": "black", "size": 60, "angle": 293, "opacity": 1},
          "encoding": {
            "x": {"field": "potential_end", "type": "quantitative"},
            "y": {"field": "current_end", "type": "quantitative"}
          }
        },
        {
          "data": {"values": [
            {"note": "b", "potential": -2.26, "current": -0.02, "big": true},
            {"note": "a", "potential": -1.305, "current": -2.25, "big": true},
            {"note": "(c)", "potential": -0.51, "current": -0.9, "big": false}
          ]},
          "mark": {"type": "text", "fontSize": 9},
          "encoding": {
            "x": {"field": "potential", "type": "quantitative"},
            "y": {"field": "current", "type": "quantitative"},
            "text": {"field": "note"},
            "size": {"condition": {"test": "datum.big", "value": 15}, "value": 9}
          }
        }
      ]
    }
  ],
  "columns": 1,
  "center": true,
  "spacing": 19,
  "resolve": {"scale": {"color": "independent"}, "legend": {"color": "independent"}}
}
